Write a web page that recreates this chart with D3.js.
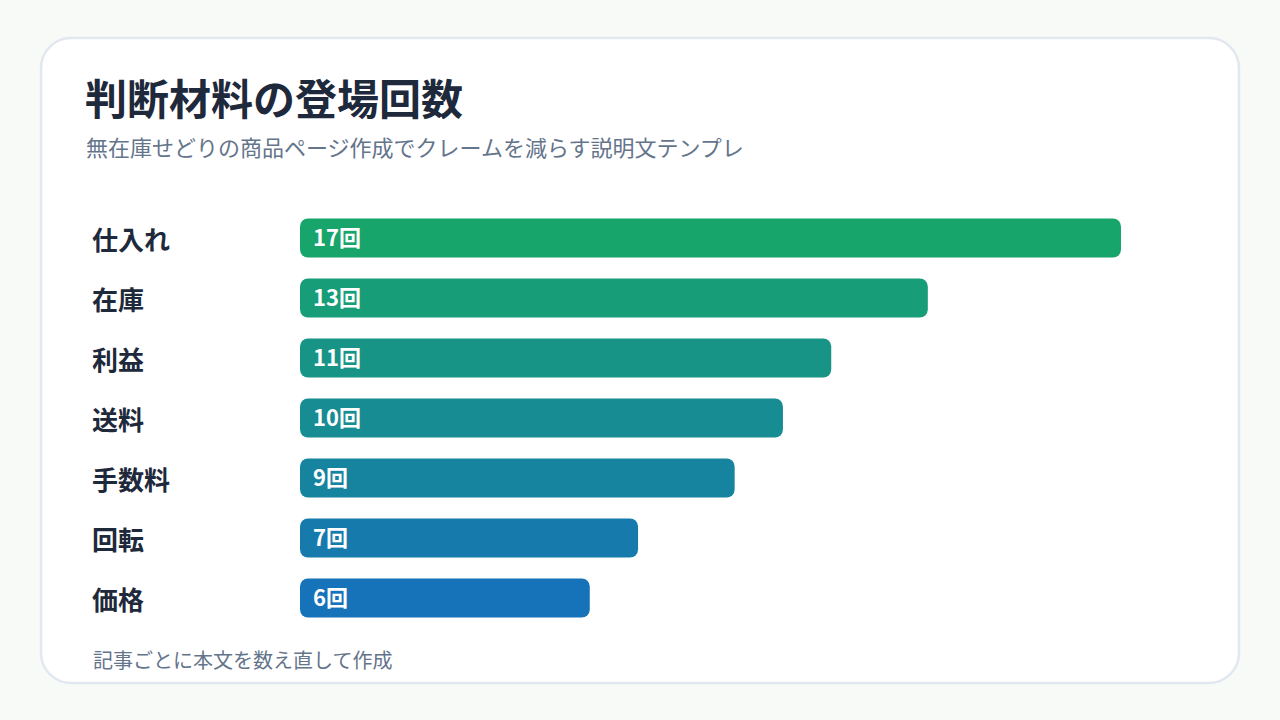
<!DOCTYPE html>
<html lang="ja">
<head>
<meta charset="UTF-8">
<title>判断材料の登場回数</title>
<script src="https://d3js.org/d3.v7.min.js"></script>
<style>
    body {
        margin: 0;
        background: #f8faf8;
        font-family: "Noto Sans CJK JP", "Noto Sans", sans-serif;
    }
    svg { display: block; }
</style>
</head>
<body>
<script>
    // Chart data
    const categories = ["仕入れ", "在庫", "利益", "送料", "手数料", "回転", "価格"];
    const counts = [17, 13, 11, 10, 9, 7, 6];
    const unit = "回";
    const title = "判断材料の登場回数";
    const subtitle = "無在庫せどりの商品ページ作成でクレームを減らす説明文テンプレ";
    const footnote = "記事ごとに本文を数え直して作成";

    const width = 1280, height = 720;

    const svg = d3.select("body").append("svg")
        .attr("width", width)
        .attr("height", height);

    // card
    svg.append("rect")
        .attr("x", 41).attr("y", 38)
        .attr("width", 1198).attr("height", 645)
        .attr("rx", 30)
        .attr("fill", "#ffffff")
        .attr("stroke", "#e2e8f0")
        .attr("stroke-width", 2.5);

    svg.append("text")
        .attr("x", 85).attr("y", 115)
        .attr("font-size", 42).attr("font-weight", 700)
        .attr("fill", "#1e293b")
        .text(title);

    svg.append("text")
        .attr("x", 86).attr("y", 156)
        .attr("font-size", 22)
        .attr("fill", "#64748b")
        .text(subtitle);

    const x = d3.scaleLinear().domain([0, 17]).range([300, 1121]);
    const y = d3.scaleBand().domain(categories).range([208, 628]).paddingInner(0.35).paddingOuter(0.175);
    const color = d3.scaleLinear()
        .domain([0, categories.length - 1])
        .range(["#17a56b", "#1672b9"])
        .interpolate(d3.interpolateRgb);

    const rows = svg.append("g").selectAll("g")
        .data(categories)
        .join("g");

    rows.append("text")
        .attr("x", 92)
        .attr("y", d => y(d) + y.bandwidth() / 2)
        .attr("dy", "0.45em")
        .attr("font-size", 26).attr("font-weight", 700)
        .attr("fill", "#1e293b")
        .text(d => d);

    rows.append("rect")
        .attr("x", x(0))
        .attr("y", d => y(d))
        .attr("width", (d, i) => x(counts[i]) - x(0))
        .attr("height", y.bandwidth())
        .attr("rx", 8)
        .attr("fill", (d, i) => color(i));

    rows.append("text")
        .attr("x", x(0) + 13)
        .attr("y", d => y(d) + y.bandwidth() / 2)
        .attr("dy", "0.38em")
        .attr("font-size", 22).attr("font-weight", 700)
        .attr("fill", "#ffffff")
        .text((d, i) => counts[i] + unit);

    svg.append("text")
        .attr("x", 93).attr("y", 668)
        .attr("font-size", 20)
        .attr("fill", "#64748b")
        .text(footnote);
</script>
</body>
</html>
